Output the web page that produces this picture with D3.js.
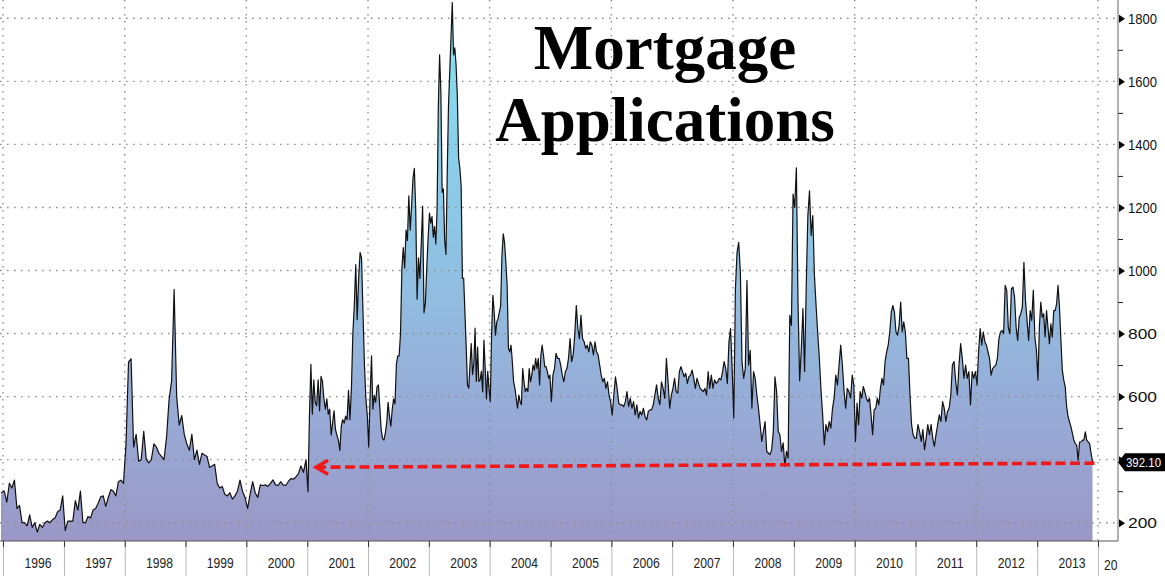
<!DOCTYPE html>
<html><head><meta charset="utf-8">
<script src="https://cdn.jsdelivr.net/npm/d3@7"></script>
<style>
html,body{margin:0;padding:0;background:#fff;}
svg{display:block;}
</style></head><body>
<svg id="chart" width="1165" height="576"></svg>
<script>
// ---------------- DATA ----------------
const titleLines = ["Mortgage", "Applications"];
const yTickValues = [200, 400, 600, 800, 1000, 1200, 1400, 1600, 1800];
const yMinorTicks = [300, 500, 700, 900, 1100, 1300, 1500, 1700];
const yearLabels = ["1996","1997","1998","1999","2000","2001","2002","2003","2004","2005","2006","2007","2008","2009","2010","2011","2012","2013","2014"];
const leadIn = 295;          // last week of 1995
const lastValue = 392.10;    // latest reading
const lastDate = new Date(2013, 10, 29);
const arrowTipDate = new Date(2001, 1, 17);
const arrowTipValue = 376;

const v1996 = [300,265,325,310,335,245,255,200,200,190,225,185,200,170,195,185,200,205,200,210,215,235,240,285];
const v1997 = [175,205,205,205,270,240,300,200,200,220,215,240,245,262,282,285,252,280,305,300,285,330,335,325];
const v1998 = [450,710,720,440,480,395,400,490,400,390,400,450,440,420,410,400,470,590,650,940,600,510,540,480];
const v1999 = [450,430,480,400,430,385,420,415,410,375,380,385,325,310,315,290,285,295,275,285,300,335,300,280];
const v2000 = [245,290,330,295,280,320,318,320,315,325,336,320,318,330,320,318,330,340,338,345,355,380,360,400];
const v2001 = [298,538,702,544,653,582,571,653,555,664,648,593,560,593,544,560,478,516,555,495,478,462,429,506,527,516,538,527,620,527,626,800,888,1019,844,975,1057,1040,866,702,593,538];
const v2002 = [440,604,729,560,604,582,631,637,566,495,467,462,484,516,582,538,506,560,593,577,702,729,729,800,1008,1073,1008,1128,1095,1237,1128,1204,1291,1324,1193,909,1040,975,1084,1204,866,898,1008,1106];
const v2003 = [1182,1150,1171,1106,1139,1084,1193,1521,1684,1564,1248,1259,1095,1051,1302,1521,1630,1739,1850,1684,1706,1652,1553,1357,1324,1270,975,975,866,757,637,626,702,768,670,702,817,648,757,648,653,680,615,779,691,593,680,626];
const v2004 = [584,795,921,868,795,837,847,868,889,1047,1116,1089,1026,953,753,742,763,711,647,626,595,563,605,584,574,689,647,616,626,616,689,647,668,700,684,721,689,721,637,732,763,732,695,695,679,658,668];
const v2005 = [584,668,689,737,721,721,700,668,647,679,689,721,784,711,732,795,889,816,784,858,784,774,753,763,742,774,763,732,774,742,732,700,668,647,658,626,647,605,584];
const v2006 = [542,605,663,626,579,574,574,568,584,616,568,595,563,584,542,574,532,553,542,563,537,526,553,558,558,574,605,637,595,574,647,626,595,721,647,563,605];
const v2007 = [626,658,616,611,679,695,679,663,674,642,663,668,684,658,626,658,642,626,621,616,626,605,679,626,668,626,653,642,647,658,653,679,711,689,642,774,816,689];
const v2008 = [532,942,1058,1089,995,711,658,689,968,700,747,563,679,658,605,563,511,458,489,521,426,421,416,432,489,663,616,489,479,426,453,379,426,405,858,826,1242];
const v2009 = [1200,1326,900,650,750,879,680,950,1174,1253,1111,1174,984,889,800,721,620,542,447,511,489,521,500,563,595,668,637,700,763,700,620,563,626,616,595,668,637];
const v2010 = [458,579,511,616,595,632,616,595,584,595,542,479,558,563,595,574,626,658,637,711,742,763,805,868,889,868,805,795,826,900,805,837,805,721,721,605,511,479,468];
const v2011 = [468,511,489,458,495,432,468,511,479,511,468,442,479,511,542,521,584,563,521,553,563,605,700,711,647,605,700,768,721,658,700,658,679,574,679,658,679];
const v2012 = [637,742,816,763,805,774,763,742,721,668,689,695,700,721,784,805,810,800,953,937,820,800,942,947,916,820,778,852,863,884,1026,905,842,778,873,842,937,789,747];
const v2013 = [652,820,900,852,863,789,873,820,768,831,789,873,873,894,953,884,778,683,652,631,567,536,520,504,483,462,451,446,398,456,456,462,462,488,462,456,451,420,392.1];

const yearStarts = [1996,1997,1998,1999,2000,2001,2002,2003,2004,2005,2006,2007,2008,2009,2010,2011,2012,2013];
const yearValues = [v1996,v1997,v1998,v1999,v2000,v2001,v2002,v2003,v2004,v2005,v2006,v2007,v2008,v2009,v2010,v2011,v2012,v2013];

// ---------------- BUILD SERIES ----------------
const data = [{date: new Date(1995, 11, 20), value: leadIn}];
yearStarts.forEach((yr, k) => {
  const vals = yearValues[k];
  const isLast = k === yearStarts.length - 1;
  const s = new Date(yr, 0, 1);
  const e = isLast ? lastDate : new Date(yr + 1, 0, 1);
  const n = vals.length;
  vals.forEach((v, i) => {
    const f = isLast ? (i + 0.5) / (n - 0.5) : (i + 0.5) / n;
    data.push({date: new Date(+s + f * (e - s)), value: v});
  });
});

// ---------------- LAYOUT ----------------
const W = 1165, H = 576, plotRight = 1118, plotBottom = 541;
const svg = d3.select("#chart");
const x = d3.scaleTime().domain([new Date(1996,0,1), new Date(2014,0,1)]).range([3, 1098]);
const y = d3.scaleLinear().domain([200, 1800]).range([522.7, 18.3]);

const defs = svg.append("defs");
defs.append("clipPath").attr("id","clip").append("rect")
  .attr("x",0).attr("y",0).attr("width",plotRight).attr("height",plotBottom);
defs.append("clipPath").attr("id","clipLabels").append("rect")
  .attr("x",0).attr("y",plotBottom).attr("width",plotRight).attr("height",H-plotBottom);
const grad = defs.append("linearGradient").attr("id","fillGrad")
  .attr("gradientUnits","userSpaceOnUse").attr("x1",0).attr("y1",0).attr("x2",0).attr("y2",plotBottom);
[[0,"#84e2f3"],[0.35,"#8ccbe8"],[0.6,"#93b8de"],[0.8,"#98a8d4"],[1,"#9b97c6"]].forEach(([o,c]) =>
  grad.append("stop").attr("offset",o).attr("stop-color",c));

svg.append("rect").attr("width",W).attr("height",H).attr("fill","#fff");

const plot = svg.append("g").attr("clip-path","url(#clip)");

// area
const area = d3.area().x(d => x(d.date)).y0(plotBottom).y1(d => y(d.value)).curve(d3.curveLinear);
plot.append("path").datum(data).attr("d", area).attr("fill","url(#fillGrad)");

// gridlines
plot.append("g").selectAll("line").data(yTickValues).join("line")
  .attr("x1",0).attr("x2",plotRight).attr("y1",d=>y(d)).attr("y2",d=>y(d))
  .attr("stroke","#8e8e8e").attr("stroke-width",1.4).attr("stroke-dasharray","1.6,5.4");
const gridYears = d3.range(1996, 2015, 2).map(yr => new Date(yr,0,1));
plot.append("g").selectAll("line").data(gridYears).join("line")
  .attr("x1",d=>x(d)).attr("x2",d=>x(d)).attr("y1",0).attr("y2",plotBottom)
  .attr("stroke","#8e8e8e").attr("stroke-width",1.4).attr("stroke-dasharray","1.6,5.4");

// line
const line = d3.line().x(d => x(d.date)).y(d => y(d.value));
plot.append("path").datum(data).attr("d", line)
  .attr("fill","none").attr("stroke","#111").attr("stroke-width",1.2).attr("stroke-linejoin","round");

// title
const title = svg.append("text").attr("x",665).attr("text-anchor","middle")
  .attr("font-family","'Liberation Serif','Times New Roman',serif").attr("font-weight","bold")
  .attr("font-size",63).attr("fill","#000");
titleLines.forEach((t,i) => title.append("tspan").attr("x",665).attr("y", i===0 ? 69 : 141).text(t));

// red dashed arrow
const ax1 = x(lastDate) + 2, ay1 = y(lastValue) + 1;
const tipX = x(arrowTipDate), tipY = y(arrowTipValue);
svg.append("line").attr("x1",ax1).attr("y1",ay1).attr("x2",tipX+3).attr("y2",tipY)
  .attr("stroke","#f01818").attr("stroke-width",3.6).attr("stroke-dasharray","10,4.5");
svg.append("path").attr("d",`M${tipX+13},${tipY-7}L${tipX+1},${tipY}L${tipX+13},${tipY+7}`)
  .attr("fill","none").attr("stroke","#f01818").attr("stroke-width",3.6).attr("stroke-linejoin","miter");

// axes frame
svg.append("line").attr("x1",0).attr("x2",plotRight).attr("y1",plotBottom).attr("y2",plotBottom)
  .attr("stroke","#555").attr("stroke-width",1);
svg.append("line").attr("x1",plotRight).attr("x2",plotRight).attr("y1",0).attr("y2",plotBottom)
  .attr("stroke","#666").attr("stroke-width",1);

// right axis (the 400 label sits under the last-value badge, so it is not printed)
const yAxis = d3.axisRight(y).tickValues(yTickValues).tickSize(0).tickPadding(10)
  .tickFormat(d => d === 400 ? "" : d3.format("d")(d));
const yg = svg.append("g").attr("transform",`translate(${plotRight},0)`).call(yAxis);
yg.select(".domain").remove();
yg.selectAll(".tick text").attr("font-family","'Liberation Sans',Arial,sans-serif")
  .attr("font-size",15).attr("fill","#111")
  .attr("textLength",29).attr("lengthAdjust","spacingAndGlyphs");
yg.selectAll(".tick").append("path").attr("d","M1,-4L7,0L1,4Z").attr("fill","#000");
const yMinor = d3.axisRight(y).tickValues(yMinorTicks).tickSize(5).tickFormat("");
const ymg = svg.append("g").attr("transform",`translate(${plotRight},0)`).call(yMinor);
ymg.select(".domain").remove();
ymg.selectAll(".tick line").attr("stroke","#222");

// bottom axis: separators
const yearDates = yearLabels.map(s => new Date(+s, 0, 1));
const sepAxis = d3.axisBottom(x).tickValues(yearDates).tickSize(H - plotBottom).tickFormat("");
const sg = svg.append("g").attr("transform",`translate(0,${plotBottom})`).call(sepAxis);
sg.select(".domain").remove();
sg.selectAll(".tick line").attr("stroke","#b8b8b8");
const darkAxis = d3.axisBottom(x).tickValues(yearDates).tickSize(6).tickFormat("");
const dg = svg.append("g").attr("transform",`translate(0,${plotBottom})`).call(darkAxis);
dg.select(".domain").remove();
dg.selectAll(".tick line").attr("stroke","#333");

// bottom axis: year labels
const midDates = yearLabels.slice(0, -1).map(s => new Date(+s, 6, 2));
const labAxis = d3.axisBottom(x).tickValues(midDates).tickSize(0).tickPadding(16)
  .tickFormat(d3.timeFormat("%Y"));
const lg = svg.append("g").attr("transform",`translate(4,${plotBottom})`).call(labAxis);
lg.select(".domain").remove();
lg.selectAll(".tick text").attr("font-family","'Liberation Sans',Arial,sans-serif")
  .attr("font-size",15).attr("fill","#222").attr("textLength",27).attr("lengthAdjust","spacingAndGlyphs");
// partial last year label (clipped at the plot edge)
svg.append("g").attr("clip-path","url(#clipLabels)").append("text")
  .attr("x", x(yearDates[yearDates.length-1]) + 6).attr("y", plotBottom + 29)
  .attr("font-family","'Liberation Sans',Arial,sans-serif").attr("font-size",15).attr("fill","#222")
  .attr("textLength",27).attr("lengthAdjust","spacingAndGlyphs")
  .text(yearLabels[yearLabels.length-1]);

// last value badge
const by = y(lastValue);
svg.append("path").attr("d",`M${plotRight},${by}L${plotRight+7},${by-9}L${W+2},${by-9}L${W+2},${by+9}L${plotRight+7},${by+9}Z`)
  .attr("fill","#000");
svg.append("text").attr("x",plotRight+8).attr("y",by).attr("dy","0.36em")
  .attr("font-family","'Liberation Sans',Arial,sans-serif").attr("font-size",13).attr("fill","#fff")
  .attr("textLength",35).attr("lengthAdjust","spacingAndGlyphs")
  .text(d3.format(".2f")(lastValue));
</script>
</body></html>
